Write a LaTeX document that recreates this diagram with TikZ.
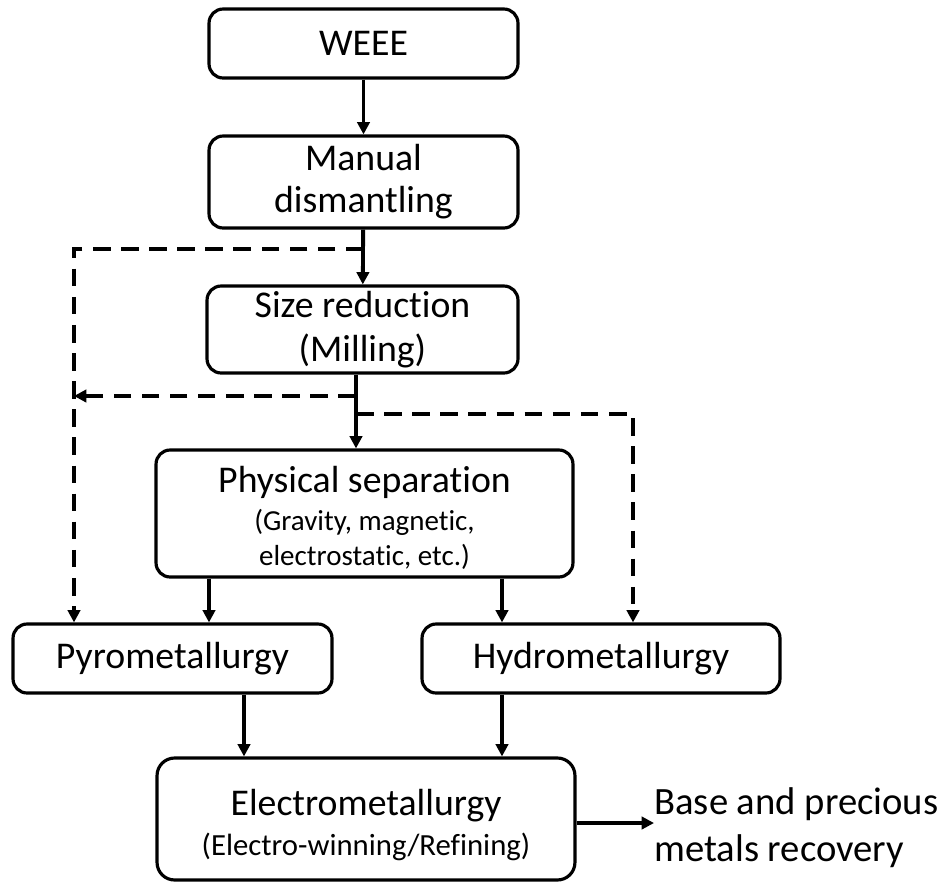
\documentclass[tikz,border=0pt]{standalone}
\usepackage{fontspec}
\setmainfont{Carlito}[Ligatures=NoCommon]
\usetikzlibrary{arrows.meta,positioning}

\tikzset{
  flow/.style={line width=2.2pt,-{Triangle[width=7pt,length=7pt]}},
  dflow/.style={flow,dash pattern=on 10pt off 6pt},
}

\begin{document}
\begin{tikzpicture}[x=0.02cm,y=-0.02cm]
            \useasboundingbox (0,0) rectangle (947,883);

            \begin{scope}[every node/.style={draw,rounded corners=8pt,line width=1.8pt,inner sep=0pt,align=center,font=\fontsize{21.5}{24}\selectfont}]
                \node[minimum width=6.18cm,minimum height=1.38cm] (weee) at (363.5,43.5) {WEEE};
                \node[minimum width=6.18cm,minimum height=1.84cm] (manual) at (363.5,182) {Manual\\dismantling};
                \node[minimum width=6.22cm,minimum height=1.74cm] (size) at (362.5,329.5) {Size reduction\\[1pt](Milling)};
                \node[minimum width=8.34cm,minimum height=2.54cm] (phys) at (364.5,513.5) {\rule{0pt}{20pt}Physical separation\\[-2.5pt]{\fontsize{16.5}{19}\selectfont (Gravity, magnetic,}\\[-4pt]{\fontsize{16.5}{19}\selectfont electrostatic, etc.)}};
                \node[minimum width=6.38cm,minimum height=1.38cm] (pyro) at (172.5,658.5) {Pyrometallurgy};
                \node[minimum width=7.16cm,minimum height=1.38cm] (hydro) at (601,658.5) {Hydrometallurgy};
                \node[minimum width=8.36cm,minimum height=2.44cm,rounded corners=10pt] (electro) at (366,819) {\rule{0pt}{22pt}Electrometallurgy\\[-1pt]{\fontsize{17.5}{20}\selectfont (Electro-winning/Refining)}};
            \end{scope}
            \node[anchor=west,inner sep=0pt,align=left,font=\fontsize{22}{26.7}\selectfont] (recov) at (654,828) {Base and precious\\metals recovery};

            \coordinate (tap1) at (363.5,249);
            \coordinate (tap2) at (356,396);
            \coordinate (tap3) at (356,414);
            \coordinate (back) at (74,396);

            \begin{scope}
                \path [flow] (weee) edge (manual);
                \path [flow] (manual) edge (size);
                \path [flow] (size.south -| tap2) edge (phys.north -| tap2);
                \path [flow] (phys.south -| 209,0) edge (pyro.north -| 209,0);
                \path [flow] (phys.south -| 502,0) edge (hydro.north -| 502,0);
                \path [flow] (pyro.south -| 244,0) edge (electro.north -| 244,0);
                \path [flow] (hydro.south -| 502,0) edge (electro.north -| 502,0);
                \path [flow] (electro.east |- 0,823) edge (recov.west |- 0,823);
            \end{scope}

            \draw [dflow] (tap1) -| (pyro.north -| 74,0);
            \draw [dflow] (tap2) -- (back);
            \draw [dflow] (tap3) -| (hydro.north -| 633,0);
            \end{tikzpicture}
\end{document}
